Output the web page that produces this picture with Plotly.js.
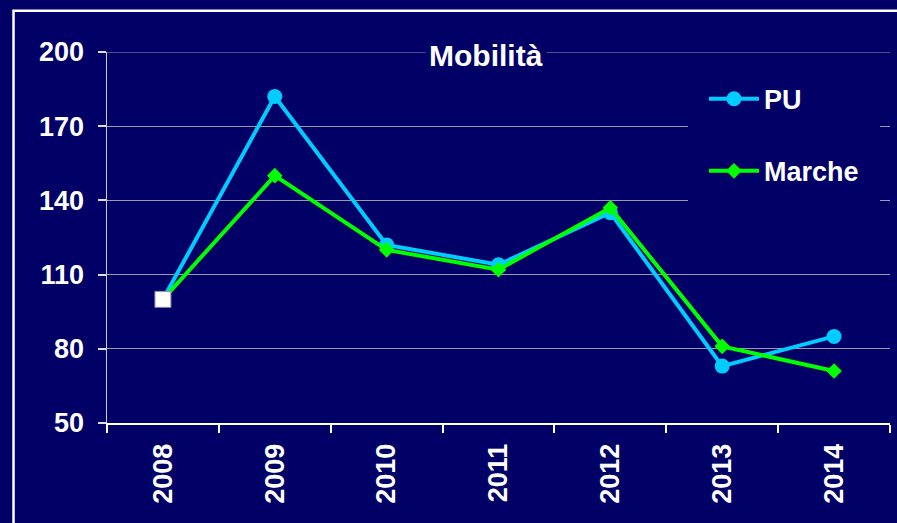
<!DOCTYPE html>
<html>
<head>
<meta charset="utf-8">
<script src="https://cdn.plot.ly/plotly-3.0.1.min.js"></script>
<style>html,body{margin:0;padding:0;background:#000066;}#chart{width:897px;height:523px;}</style>
</head>
<body>
<div id="chart"></div>
<script>
const years = ['2008', '2009', '2010', '2011', '2012', '2013', '2014'];
const puValues = [100, 182, 122, 114, 135, 73, 85];
const marcheValues = [100, 150, 120, 112, 137, 81, 71];
const yTicks = [50, 80, 110, 140, 170, 200];
const seriesNames = ['PU', 'Marche'];
const chartTitle = 'Mobilità';

const NAVY = '#000066';
const FONT = 'Liberation Sans, Arial, sans-serif';

const traces = [
  {
    x: years, y: puValues, name: seriesNames[0], type: 'scatter', mode: 'lines+markers',
    legendgroup: 'a',
    line: {color: '#00CCFF', width: 4},
    marker: {symbol: 'circle', size: 15, color: '#00CCFF', line: {width: 0}}
  },
  {
    x: years, y: marcheValues, name: seriesNames[1], type: 'scatter', mode: 'lines+markers',
    legendgroup: 'b',
    line: {color: '#00FF00', width: 4},
    marker: {symbol: 'diamond', size: 12, color: '#00FF00', line: {width: 0}}
  },
  {
    x: [years[0]], y: [puValues[0]], type: 'scatter', mode: 'markers', showlegend: false,
    marker: {symbol: 'square', size: 16, color: '#FFFFFF', line: {width: 1, color: '#8888aa'}}
  }
];

const layout = {
  width: 897, height: 523,
  paper_bgcolor: NAVY, plot_bgcolor: NAVY,
  margin: {l: 107, r: 7, t: 52, b: 100, pad: 0},
  font: {family: FONT, color: '#FFFFFF', size: 27, weight: 'bold'},
  showlegend: true,
  legend: {
    x: 0.742, y: 0.982, xanchor: 'left', yanchor: 'top',
    bgcolor: NAVY, bordercolor: NAVY, borderwidth: 16,
    font: {family: FONT, size: 27, color: '#FFFFFF', weight: 'bold'},
    traceorder: 'grouped', tracegroupgap: 34, itemwidth: 50
  },
  xaxis: {
    type: 'category', tickson: 'boundaries', automargin: false,
    range: [-0.5, years.length - 0.5],
    ticks: 'outside', ticklen: 8, tickcolor: '#FFFFFF', tickwidth: 2,
    showline: true, linecolor: '#FFFFFF', linewidth: 2,
    showgrid: false, tickangle: -90, ticklabelstandoff: 8,
    tickfont: {family: FONT, size: 27, color: '#FFFFFF', weight: 'bold'},
    zeroline: false, fixedrange: true
  },
  yaxis: {
    range: [50, 200], tickvals: yTicks, ticktext: yTicks.map(String), automargin: false,
    ticks: 'outside', ticklen: 8, tickcolor: '#DDDDDD', tickwidth: 2,
    showline: true, linecolor: '#CCCCCC', linewidth: 1.5,
    showgrid: true, gridcolor: '#9999aa', gridwidth: 1,
    ticklabelstandoff: 8,
    tickfont: {family: FONT, size: 27, color: '#FFFFFF', weight: 'bold'},
    zeroline: false, fixedrange: true
  },
  annotations: [{
    text: chartTitle, xref: 'paper', yref: 'paper', x: 0.484, y: 0.99,
    xanchor: 'center', yanchor: 'middle', showarrow: false,
    bgcolor: NAVY, borderpad: 3,
    font: {family: FONT, size: 30, color: '#FFFFFF', weight: 'bold'}
  }],
  shapes: [
    {
      type: 'line', xref: 'paper', yref: 'y', x0: 0, x1: 1,
      y0: yTicks[yTicks.length - 1], y1: yTicks[yTicks.length - 1],
      line: {color: '#9999aa', width: 1}, layer: 'below'
    },
    {
      type: 'rect', xref: 'paper', yref: 'paper',
      x0: -0.1194, x1: 1.05, y0: -0.35, y1: 1.1115,
      line: {color: '#FFFFFF', width: 2.5}, fillcolor: 'rgba(0,0,0,0)', layer: 'below'
    }
  ]
};

Plotly.newPlot('chart', traces, layout, {displayModeBar: false, staticPlot: true});
</script>
</body>
</html>
